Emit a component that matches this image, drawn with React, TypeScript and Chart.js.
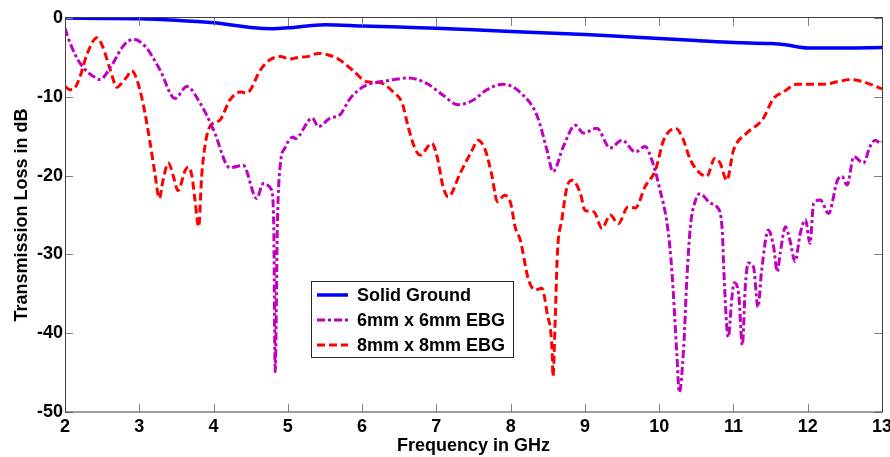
import React, { useEffect, useRef } from "react";
import { Chart, registerables } from "chart.js";

Chart.register(...registerables);

const X_TICKS = [2, 3, 4, 5, 6, 7, 8, 9, 10, 11, 12, 13];
const Y_TICKS = [0, -10, -20, -30, -40, -50];

const seriesNames = ["Solid Ground", "6mm x 6mm EBG", "8mm x 8mm EBG"];

const solidFreq = [2, 2.5, 3, 3.5, 4, 4.5, 4.8, 5.0, 5.5, 6, 6.5, 7, 7.5, 8, 8.5, 9, 9.5, 10, 10.5, 11, 11.5, 11.7, 12, 12.5, 13];
const solidLoss = [0, -0.05, -0.1, -0.3, -0.6, -1.2, -1.35, -1.25, -0.85, -1.0, -1.15, -1.3, -1.5, -1.7, -1.9, -2.1, -2.35, -2.6, -2.85, -3.1, -3.25, -3.4, -3.8, -3.8, -3.75];

const ebg6Freq = [2.0, 2.07, 2.2, 2.43, 2.47, 2.63, 2.78, 2.92, 3.08, 3.28, 3.48, 3.64, 3.82, 4.0, 4.22, 4.4, 4.58, 4.67, 4.78, 4.81, 4.83, 4.86, 4.9, 4.96, 5.07, 5.1, 5.33, 5.41, 5.57, 5.7, 5.84, 6.02, 6.24, 6.38, 6.62, 6.87, 7.09, 7.29, 7.5, 7.68, 7.9, 8.17, 8.36, 8.49, 8.57, 8.71, 8.87, 8.98, 9.16, 9.34, 9.5, 9.68, 9.81, 9.9, 10.0, 10.12, 10.17, 10.24, 10.27, 10.33, 10.37, 10.42, 10.49, 10.55, 10.69, 10.78, 10.85, 10.87, 10.93, 10.98, 11.01, 11.07, 11.12, 11.16, 11.2, 11.27, 11.33, 11.38, 11.47, 11.54, 11.59, 11.63, 11.7, 11.76, 11.83, 11.9, 11.97, 12.03, 12.08, 12.17, 12.28, 12.4, 12.46, 12.53, 12.62, 12.75, 12.84, 12.91, 12.98, 13.0];
const ebg6Loss = [-1.3, -3.2, -5.7, -7.7, -7.8, -6.0, -3.6, -2.7, -3.6, -6.6, -10.2, -8.7, -10.8, -14.2, -19.0, -18.7, -22.9, -21.0, -21.8, -26, -44.9, -26, -18.5, -16.5, -15.1, -15.3, -12.7, -13.8, -12.7, -12.3, -10.2, -8.7, -8.1, -7.9, -7.6, -8.3, -9.8, -11.0, -10.4, -9.1, -8.4, -9.8, -12.5, -16.8, -19.5, -16.3, -13.6, -14.6, -14.0, -16.5, -15.5, -17.0, -16.3, -18, -21.4, -27, -32, -43, -47.5, -41.8, -33.6, -26.5, -23.1, -22.3, -23.5, -24, -27, -32, -40.5, -35.4, -33.6, -35, -41.5, -34, -31.1, -31.6, -36.7, -32, -26.9, -29, -32.2, -29.8, -26.5, -28.2, -30.9, -27.3, -25.6, -28.6, -23.5, -23.1, -24.8, -20.6, -20.1, -21.2, -17.6, -18.4, -16.3, -15.5, -15.9, -15.7];

const ebg8Freq = [2.0, 2.07, 2.13, 2.2, 2.3, 2.43, 2.51, 2.61, 2.7, 2.74, 2.83, 2.9, 2.97, 3.05, 3.14, 3.21, 3.27, 3.32, 3.39, 3.46, 3.52, 3.62, 3.66, 3.71, 3.75, 3.8, 3.84, 3.89, 3.95, 4.09, 4.22, 4.36, 4.45, 4.63, 4.76, 4.9, 5.03, 5.14, 5.26, 5.41, 5.66, 5.87, 6.07, 6.24, 6.42, 6.54, 6.62, 6.71, 6.78, 6.94, 7.01, 7.09, 7.16, 7.32, 7.48, 7.56, 7.66, 7.75, 7.82, 7.92, 8.0, 8.06, 8.13, 8.24, 8.33, 8.42, 8.49, 8.56, 8.57, 8.6, 8.63, 8.69, 8.76, 8.83, 8.94, 9.0, 9.12, 9.23, 9.34, 9.45, 9.58, 9.68, 9.81, 9.95, 10.06, 10.22, 10.31, 10.42, 10.55, 10.64, 10.75, 10.82, 10.91, 11.0, 11.18, 11.39, 11.54, 11.67, 11.86, 12.08, 12.21, 12.4, 12.57, 12.75, 12.95, 13.0];
const ebg8Loss = [-8.7, -9.1, -8.9, -7.5, -4.5, -2.5, -3.7, -6.6, -8.8, -8.5, -7.5, -6.7, -7.9, -10.8, -15.5, -19.7, -22.9, -20.6, -18.4, -20.1, -21.9, -19.3, -18.9, -20.1, -23.1, -26.5, -20.1, -15.9, -13.8, -12.9, -10.4, -9.4, -9.5, -6.6, -5.3, -4.9, -5.2, -5.0, -4.9, -4.5, -5.1, -6.6, -8.1, -8.2, -9.4, -10.8, -13.8, -16.5, -17.4, -15.9, -17.6, -21.4, -22.7, -19.7, -16.8, -15.5, -16.8, -20.1, -23.3, -22.5, -23.5, -26.5, -28.2, -33.2, -34.5, -34.3, -37.4, -42.5, -45.5, -38.3, -29.8, -25.6, -21.4, -20.6, -22.3, -24.4, -24.6, -26.7, -25.0, -26.1, -24.0, -24.1, -21.4, -19.3, -15.5, -14.0, -15.1, -18.0, -19.7, -20.1, -17.8, -18.4, -20.6, -16.8, -14.6, -12.9, -10.2, -9.4, -8.4, -8.4, -8.4, -8.1, -7.8, -8.1, -8.8, -9.0];

const COLORS = ["#0000FF", "#BF00BF", "#FF0000"];
const WIDTHS = [3.5, 3, 3];
const DASHES: number[][] = [[], [8, 3, 3, 3], [8, 4]];
const FONT = "'Liberation Sans', Arial, Helvetica, sans-serif";

function toPoints(xs: number[], ys: number[]) {
  return xs.map((x, i) => ({ x, y: ys[i] }));
}

const framePlugin = {
  id: "frameTicks",
  afterDatasetsDraw(chart: any) {
    const { ctx, chartArea, scales } = chart;
    const { left, right, top, bottom } = chartArea;
    ctx.save();
    ctx.strokeStyle = "#808080";
    ctx.lineWidth = 1;
    const tl = 8;
    scales.x.ticks.forEach((t: any) => {
      const px = Math.round(scales.x.getPixelForValue(t.value)) + 0.5;
      ctx.beginPath();
      ctx.moveTo(px, bottom);
      ctx.lineTo(px, bottom - tl);
      ctx.moveTo(px, top);
      ctx.lineTo(px, top + tl);
      ctx.stroke();
    });
    scales.y.ticks.forEach((t: any) => {
      const py = Math.round(scales.y.getPixelForValue(t.value)) + 0.5;
      ctx.beginPath();
      ctx.moveTo(left, py);
      ctx.lineTo(left + tl, py);
      ctx.moveTo(right, py);
      ctx.lineTo(right - tl, py);
      ctx.stroke();
    });
    ctx.strokeStyle = "#404040";
    ctx.strokeRect(Math.round(left) + 0.5, Math.round(top) - 0.5, Math.round(right - left), Math.round(bottom - top) + 0.5);
    ctx.restore();
  },
  afterDraw(chart: any) {
    const { ctx } = chart;
    ctx.save();
    const bx = 311, by = 281, bw = 202, bh = 76;
    ctx.fillStyle = "#ffffff";
    ctx.fillRect(bx, by, bw, bh);
    ctx.strokeStyle = "#262626";
    ctx.lineWidth = 1;
    ctx.strokeRect(bx + 0.5, by + 0.5, bw, bh);
    chart.data.datasets.forEach((ds: any, i: number) => {
      const y = 295 + 25 * i;
      ctx.beginPath();
      ctx.strokeStyle = ds.borderColor;
      ctx.lineWidth = ds.borderWidth;
      ctx.setLineDash(ds.borderDash || []);
      ctx.moveTo(317, y);
      ctx.lineTo(348, y);
      ctx.stroke();
      ctx.setLineDash([]);
      ctx.fillStyle = "#000";
      ctx.font = `bold 18px ${FONT}`;
      ctx.textBaseline = "middle";
      ctx.textAlign = "left";
      ctx.fillText(ds.label, 357, y + 1);
    });
    ctx.restore();
  },
};

export default function App() {
  const ref = useRef<HTMLCanvasElement | null>(null);
  useEffect(() => {
    if (!ref.current) return;
    const seriesX = [solidFreq, ebg6Freq, ebg8Freq];
    const seriesY = [solidLoss, ebg6Loss, ebg8Loss];
    const chart = new Chart(ref.current, {
      type: "line",
      data: {
        datasets: seriesNames.map((name, i) => ({
          label: name,
          data: toPoints(seriesX[i], seriesY[i]),
          borderColor: COLORS[i],
          backgroundColor: COLORS[i],
          borderWidth: WIDTHS[i],
          borderDash: DASHES[i],
          pointRadius: 0,
          cubicInterpolationMode: "monotone",
          fill: false,
        })),
      },
      options: {
        animation: false,
        responsive: false,
        layout: { padding: { left: 0, top: 18, right: 8, bottom: 0 } },
        plugins: { legend: { display: false }, tooltip: { enabled: false } },
        scales: {
          x: {
            type: "linear",
            min: 2,
            max: 13,
            afterBuildTicks: (s: any) => {
              s.ticks = X_TICKS.map((v) => ({ value: v }));
            },
            afterFit: (s: any) => {
              s.height = 45;
              s.paddingRight = 0;
              s.paddingLeft = 0;
            },
            grid: { display: false, drawTicks: false },
            border: { display: false },
            ticks: {
              padding: 4,
              color: "#000",
              font: { family: FONT, size: 18, weight: "bold" },
              maxRotation: 0,
              autoSkip: false,
            },
            title: {
              display: true,
              text: "Frequency in GHz",
              color: "#000",
              font: { family: FONT, size: 18, weight: "bold" },
              padding: { top: 0, bottom: 0 },
            },
          },
          y: {
            type: "linear",
            min: -50,
            max: 0,
            afterBuildTicks: (s: any) => {
              s.ticks = Y_TICKS.map((v) => ({ value: v }));
            },
            afterFit: (s: any) => {
              s.width = 65;
            },
            grid: { display: false, drawTicks: false },
            border: { display: false },
            ticks: {
              padding: 2,
              color: "#000",
              font: { family: FONT, size: 18, weight: "bold" },
              autoSkip: false,
            },
            title: {
              display: true,
              text: "Transmission Loss in dB",
              color: "#000",
              font: { family: FONT, size: 18, weight: "bold" },
              padding: { top: 11, bottom: 0 },
            },
          },
        },
      },
      plugins: [framePlugin],
    } as any);
    return () => chart.destroy();
  }, []);
  return (
    <div style={{ position: "fixed", left: 0, top: 0, width: 890, height: 457, background: "#fff" }}>
      <canvas ref={ref} width={890} height={457} style={{ display: "block", width: 890, height: 457 }} />
    </div>
  );
}
